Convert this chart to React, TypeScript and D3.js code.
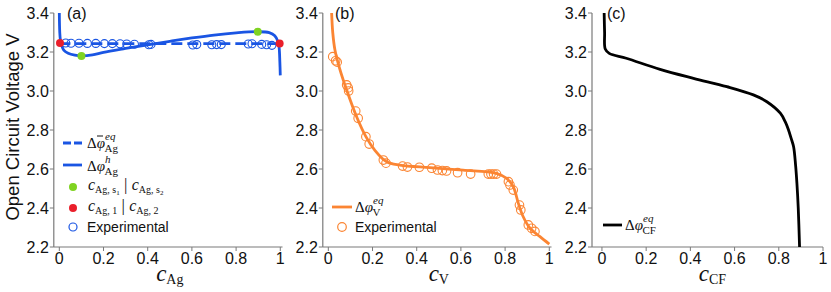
import * as d3 from "d3";

// axes
const cTicks = [0, 0.2, 0.4, 0.6, 0.8, 1];
const cTickLabels = ["0", "0.2", "0.4", "0.6", "0.8", "1"];
const vTicks = [2.2, 2.4, 2.6, 2.8, 3.0, 3.2, 3.4];

// (a) silver electrode
const agHystC = [0, 0.002, 0.005, 0.01, 0.02, 0.04, 0.07, 0.1, 0.15, 0.2, 0.3, 0.4, 0.5, 0.6, 0.7, 0.8, 0.9, 0.95, 0.975, 0.99, 0.995, 0.998, 1.0];
const agHystV = [3.4, 3.3, 3.26, 3.235, 3.21, 3.194, 3.184, 3.18, 3.185, 3.198, 3.218, 3.237, 3.255, 3.272, 3.287, 3.298, 3.304, 3.299, 3.283, 3.252, 3.22, 3.15, 3.08];
const agEqC = [0, 1];
const agEqV = [3.243, 3.243];
const agSpinC = [0.1, 0.898];
const agSpinV = [3.18, 3.304];
const agBinC = [0.003, 0.997];
const agBinV = [3.246, 3.244];
const agExpC = [0.029, 0.053, 0.089, 0.127, 0.165, 0.204, 0.24, 0.275, 0.305, 0.34, 0.405, 0.415, 0.604, 0.622, 0.69, 0.712, 0.733, 0.855, 0.872, 0.916, 0.938, 0.962];
const agExpV = [3.246, 3.245, 3.245, 3.244, 3.244, 3.243, 3.243, 3.242, 3.241, 3.24, 3.237, 3.239, 3.236, 3.238, 3.237, 3.238, 3.238, 3.241, 3.242, 3.239, 3.237, 3.234];

// (b) vanadium oxide
const vC = [0.015, 0.02, 0.03, 0.05, 0.083, 0.128, 0.17, 0.21, 0.264, 0.324, 0.46, 0.61, 0.76, 0.807, 0.837, 0.86, 0.882, 0.913, 0.958, 1.0];
const vV = [3.4, 3.3, 3.21, 3.12, 3.005, 2.868, 2.766, 2.697, 2.637, 2.62, 2.607, 2.594, 2.578, 2.552, 2.509, 2.424, 2.355, 2.296, 2.253, 2.215];
const vExpC = [0.02, 0.033, 0.04, 0.083, 0.09, 0.092, 0.124, 0.135, 0.17, 0.185, 0.249, 0.261, 0.336, 0.358, 0.412, 0.468, 0.494, 0.516, 0.535, 0.585, 0.644, 0.724, 0.736, 0.748, 0.761, 0.815, 0.822, 0.837, 0.865, 0.871, 0.905, 0.92, 0.935];
const vExpV = [3.176, 3.155, 3.148, 3.031, 3.016, 3.0, 2.897, 2.86, 2.766, 2.728, 2.646, 2.63, 2.615, 2.61, 2.609, 2.604, 2.595, 2.592, 2.59, 2.581, 2.574, 2.574, 2.574, 2.574, 2.574, 2.535, 2.518, 2.492, 2.415, 2.39, 2.313, 2.296, 2.28];

// (c) carbon fluoride
const cfC = [0.01, 0.012, 0.015, 0.033, 0.11, 0.263, 0.414, 0.565, 0.685, 0.746, 0.807, 0.83, 0.844, 0.856, 0.867, 0.876, 0.882, 0.888, 0.894];
const cfV = [3.4, 3.3, 3.215, 3.193, 3.168, 3.111, 3.065, 3.022, 2.98, 2.945, 2.886, 2.84, 2.8, 2.757, 2.714, 2.62, 2.527, 2.4, 2.2];

const BLUE = "#1a55e3";
const ORANGE = "#fb8533";
const GREEN = "#7fd321";
const RED = "#ea1f2b";
const SANS = "Liberation Sans, Arial, sans-serif";
const SERIF = "Liberation Serif, Times New Roman, serif";

const yScale = d3.scaleLinear().domain([2.2, 3.4]).range([247, 13]);

function Axes({ x }: { x: d3.ScaleLinear<number, number> }) {
  const [x0, x1] = x.range();
  return (
    <g fontFamily={SANS} fontSize={16} fill="#111">
      <line x1={x0} x2={x0} y1={13} y2={247} stroke="#7a7a7a" strokeWidth={1.2} />
      <line x1={x0} x2={x1} y1={247} y2={247} stroke="#7a7a7a" strokeWidth={1.2} />
      {vTicks.map((t) => (
        <g key={t}>
          <line x1={x0 - 4} x2={x0} y1={yScale(t)} y2={yScale(t)} stroke="#7a7a7a" />
          <text x={x0 - 5} y={yScale(t)} textAnchor="end" dominantBaseline="central">
            {t.toFixed(1)}
          </text>
        </g>
      ))}
      {cTicks.map((t, i) => (
        <g key={t}>
          <line x1={x(t)} x2={x(t)} y1={247} y2={251} stroke="#7a7a7a" />
          <text x={x(t)} y={264} textAnchor="middle">
            {cTickLabels[i]}
          </text>
        </g>
      ))}
    </g>
  );
}

function XLabel({ cx, sub }: { cx: number; sub: string }) {
  return (
    <text x={cx} y={281} textAnchor="middle" fontFamily={SERIF} fill="#111">
      <tspan fontStyle="italic" fontSize={23}>c</tspan>
      <tspan fontSize={14} dy={3}>{sub}</tspan>
    </text>
  );
}

function PhiLabel({ x, y, sup, sub, bar }: { x: number; y: number; sup: string; sub: string; bar?: boolean }) {
  return (
    <g fontFamily={SERIF} fill="#111">
      <text x={x} y={y} fontSize={15}>
        Δ<tspan fontStyle="italic">φ</tspan>
      </text>
      {bar && <line x1={x + 10} x2={x + 16} y1={y - 12} y2={y - 12} stroke="#111" strokeWidth={1} />}
      <text x={x + 18} y={y - 8} fontSize={11} fontStyle="italic">{sup}</text>
      <text x={x + 17.5} y={y + 4} fontSize={11}>{sub}</text>
    </g>
  );
}

function CPair({ x, y, a, b }: { x: number; y: number; a: string; b: string }) {
  return (
    <text x={x} y={y} fontFamily={SERIF} fill="#111">
      <tspan fontStyle="italic" fontSize={16}>c</tspan>
      <tspan fontSize={10} dy={3}>{"Ag," + (a.length > 1 ? " " + a[0] : " " + a)}</tspan>
      {a.length > 1 && <tspan fontSize={7} dy={2}>{a[1]}</tspan>}
      <tspan fontSize={17} dy={a.length > 1 ? -5 : -3}>{" | "}</tspan>
      <tspan fontStyle="italic" fontSize={16}>c</tspan>
      <tspan fontSize={10} dy={3}>{"Ag," + (b.length > 1 ? " " + b[0] : " " + b)}</tspan>
      {b.length > 1 && <tspan fontSize={7} dy={2}>{b[1]}</tspan>}
    </text>
  );
}

export default function App() {
  const xA = d3.scaleLinear().domain([-0.025, 1.01]).range([53.8, 282.5]);
  const xB = d3.scaleLinear().domain([-0.025, 1.01]).range([322.8, 551.5]);
  const xC = d3.scaleLinear().domain([-0.045, 1.0]).range([592, 823]);

  const mkLine = (x: d3.ScaleLinear<number, number>, cs: number[], vs: number[]) =>
    d3
      .line<number>()
      .x((d) => x(d))
      .y((_, i) => yScale(vs[i]))
      .curve(d3.curveCatmullRom.alpha(0.5))(cs) ?? "";

  return (
    <svg width={831} height={292} style={{ position: "absolute", left: 0, top: 0, background: "#fff" }}>
      <rect width={831} height={292} fill="#fff" />
      <text
        transform="translate(18.5,127) rotate(-90)"
        textAnchor="middle"
        fontFamily={SANS}
        fontSize={18.5}
        fill="#111"
      >
        Open Circuit Voltage V
      </text>

      {/* (a) */}
      <Axes x={xA} />
      <path d={mkLine(xA, agEqC, agEqV)} fill="none" stroke={BLUE} strokeWidth={2.8} strokeDasharray="11,5" />
      <path d={mkLine(xA, agHystC, agHystV)} fill="none" stroke={BLUE} strokeWidth={2.8} />
      {agExpC.map((c, i) => (
        <circle key={i} cx={xA(c)} cy={yScale(agExpV[i])} r={4} fill="none" stroke={BLUE} strokeWidth={1.1} />
      ))}
      {agSpinC.map((c, i) => (
        <circle key={i} cx={xA(c)} cy={yScale(agSpinV[i])} r={4} fill={GREEN} />
      ))}
      {agBinC.map((c, i) => (
        <circle key={i} cx={xA(c)} cy={yScale(agBinV[i])} r={4} fill={RED} />
      ))}
      <text x={67} y={19} fontFamily={SANS} fontSize={16} fill="#111">(a)</text>
      <XLabel cx={xA(0.5)} sub="Ag" />
      <line x1={63} x2={82} y1={143} y2={143} stroke={BLUE} strokeWidth={2.8} strokeDasharray="8,3" />
      <PhiLabel x={87} y={148} sup="eq" sub="Ag" bar />
      <line x1={63} x2={82} y1={165} y2={165} stroke={BLUE} strokeWidth={2.8} />
      <PhiLabel x={87} y={171} sup="h" sub="Ag" />
      <circle cx={73} cy={187} r={4} fill={GREEN} />
      <CPair x={88} y={190} a="s1" b="s2" />
      <circle cx={73} cy={208} r={4} fill={RED} />
      <CPair x={88} y={211} a="1" b="2" />
      <circle cx={73} cy={227} r={4} fill="none" stroke={BLUE} strokeWidth={1.2} />
      <text x={87} y={232} fontFamily={SANS} fontSize={14} fill="#111">Experimental</text>

      {/* (b) */}
      <Axes x={xB} />
      <path d={mkLine(xB, vC, vV)} fill="none" stroke={ORANGE} strokeWidth={2.8} />
      {vExpC.map((c, i) => (
        <circle key={i} cx={xB(c)} cy={yScale(vExpV[i])} r={4.3} fill="none" stroke={ORANGE} strokeWidth={1.1} />
      ))}
      <text x={335} y={19} fontFamily={SANS} fontSize={16} fill="#111">(b)</text>
      <XLabel cx={xB(0.5)} sub="V" />
      <line x1={332} x2={352} y1={207} y2={207} stroke={ORANGE} strokeWidth={2.8} />
      <PhiLabel x={355} y={212} sup="eq" sub="V" />
      <circle cx={342} cy={227} r={4.3} fill="none" stroke={ORANGE} strokeWidth={1.2} />
      <text x={355} y={232} fontFamily={SANS} fontSize={14} fill="#111">Experimental</text>

      {/* (c) */}
      <Axes x={xC} />
      <path d={mkLine(xC, cfC, cfV)} fill="none" stroke="#000" strokeWidth={2.8} />
      <text x={607} y={19} fontFamily={SANS} fontSize={16} fill="#111">(c)</text>
      <XLabel cx={xC(0.5)} sub="CF" />
      <line x1={603} x2={622} y1={225} y2={225} stroke="#000" strokeWidth={2.8} />
      <PhiLabel x={625} y={230} sup="eq" sub="CF" />
    </svg>
  );
}
